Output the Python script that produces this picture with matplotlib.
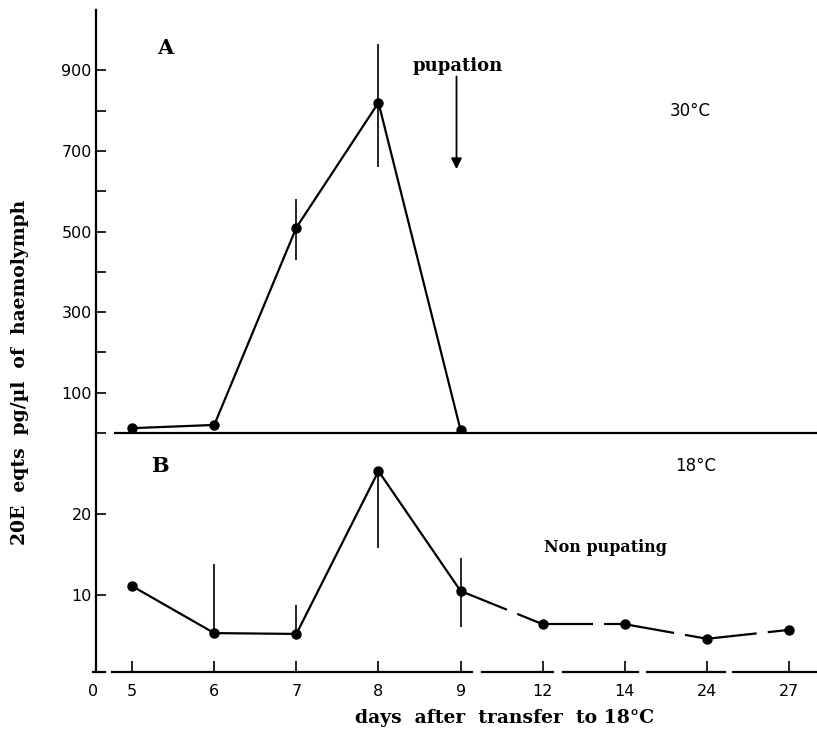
import matplotlib
matplotlib.use("Agg")
import matplotlib.pyplot as plt
import numpy as np

plt.rcParams['lines.scale_dashes'] = False
plt.rcParams['font.family'] = ['DejaVu Sans']

# ---- data ----
days = ["5", "6", "7", "8", "9", "12", "14", "24", "27"]

# Panel A (30 degC), days 5-9
a_vals = [12, 20, 510, 820, 7]
a_err_low = [0, 0, 80, 160, 0]
a_err_high = [0, 0, 70, 145, 0]
a_yticks_major = [100, 300, 500, 700, 900]
a_yticks_minor = [0, 200, 400, 600, 800]

# Panel B (18 degC), all days
b_vals = [11.1, 5.3, 5.2, 25.3, 10.5, 6.4, 6.4, 4.6, 5.7]
b_err_low = [0, 0, 0, 9.5, 4.5, 0, 0, 0, 0]
b_err_high = [0, 8.5, 3.6, 0, 4.1, 0, 0, 0, 0]
b_yticks = [10, 20]

W, H = 817, 733
fig = plt.figure(figsize=(W / 100, H / 100), dpi=100)

def fx(x):
    return x / W

def fy(y):
    return 1 - y / H

left_px, right_px = 96, 817
top_px, mid_px, bot_px = 10, 433, 672
x0 = -0.44
x1 = 8.34

ax_a = fig.add_axes([fx(left_px), fy(mid_px), fx(right_px) - fx(left_px), fy(top_px) - fy(mid_px)])
ax_b = fig.add_axes([fx(left_px), fy(bot_px), fx(right_px) - fx(left_px), fy(mid_px) - fy(bot_px)])

lw = 1.6
ms = 6.5
xa = np.arange(len(a_vals))
xb = np.arange(len(b_vals))

for ax in (ax_a, ax_b):
    ax.set_xlim(x0, x1)
    for s in ("top", "right", "bottom"):
        ax.spines[s].set_visible(False)
    ax.spines["left"].set_linewidth(1.6)
    ax.patch.set_alpha(0)

# ---- Panel A ----
ax_a.set_ylim(0, 1050)
ax_a.errorbar(xa, a_vals, yerr=[a_err_low, a_err_high], fmt="none",
              ecolor="black", elinewidth=1.2, capsize=0)
ax_a.plot(xa, a_vals, "-o", color="black", lw=lw, ms=ms)
ax_a.set_yticks(a_yticks_major)
ax_a.set_yticklabels([str(v) for v in a_yticks_major])
ax_a.set_yticks(a_yticks_minor, minor=True)
ax_a.tick_params(axis="y", which="both", direction="in", length=7, width=1.2,
                 labelsize=11.5, pad=3)
ax_a.set_xticks([])
# divider line between panels
ax_a.plot([-0.21, x1], [0, 0], color="black", lw=1.6, clip_on=False)

# pupation arrow
ax_a.annotate("", xy=(3.95, 655), xytext=(3.95, 885),
              arrowprops=dict(arrowstyle="-|>", color="black", lw=1.3,
                              mutation_scale=16, shrinkA=0, shrinkB=0))

# ---- Panel B ----
ax_b.set_ylim(0.5, 30)
ax_b.errorbar(xb, b_vals, yerr=[b_err_low, b_err_high], fmt="none",
              ecolor="black", elinewidth=1.2, capsize=0)
ax_b.plot(xb[:5], b_vals[:5], "-", color="black", lw=lw)
for i in range(4, len(b_vals) - 1):
    ax_b.plot(xb[i:i + 2], b_vals[i:i + 2], color="black", lw=lw,
              linestyle=(0, (36, 8, 500)))
ax_b.plot(xb, b_vals, "o", color="black", ms=ms)
ax_b.set_yticks(b_yticks)
ax_b.set_yticklabels([str(v) for v in b_yticks])
ax_b.tick_params(axis="y", which="both", direction="in", length=7, width=1.2,
                 labelsize=11.5, pad=3)
ax_b.set_xticks(xb)
ax_b.set_xticklabels(days)
ax_b.tick_params(axis="x", direction="in", length=8, width=1.2,
                 labelsize=11.5, pad=9)

# broken bottom axis
segs = [(-0.48, -0.33), (-0.24, 4.14), (4.26, 5.13), (5.25, 6.16),
        (6.27, 7.22), (7.32, x1)]
trans = ax_b.get_xaxis_transform()
for a, b in segs:
    ax_b.plot([a, b], [0, 0], color="black", lw=1.6, transform=trans, clip_on=False)

# ---- texts ----
serif = dict(family="DejaVu Serif", weight="bold")
fig.text(fx(93), fy(692), "0", ha="center", va="center", fontsize=11.5)
fig.text(fx(165), fy(48), "A", ha="center", va="center", fontsize=15, **serif)
fig.text(fx(160), fy(466), "B", ha="center", va="center", fontsize=15, **serif)
fig.text(fx(458), fy(66), "pupation", ha="center", va="center", fontsize=13, **serif)
fig.text(fx(606), fy(548), "Non pupating", ha="center", va="center", fontsize=11.5, **serif)
fig.text(fx(690), fy(111), "30°C", ha="center", va="center", fontsize=12)
fig.text(fx(696), fy(466), "18°C", ha="center", va="center", fontsize=12)
fig.text(fx(505), fy(718), "days  after  transfer  to 18°C", ha="center", va="center",
         fontsize=13.5, **serif)
fig.text(fx(20), fy(372), "20E  eqts  pg/µl  of  haemolymph", ha="center", va="center",
         rotation=90, fontsize=13.5, **serif)

fig.savefig("out.png", dpi=100)
